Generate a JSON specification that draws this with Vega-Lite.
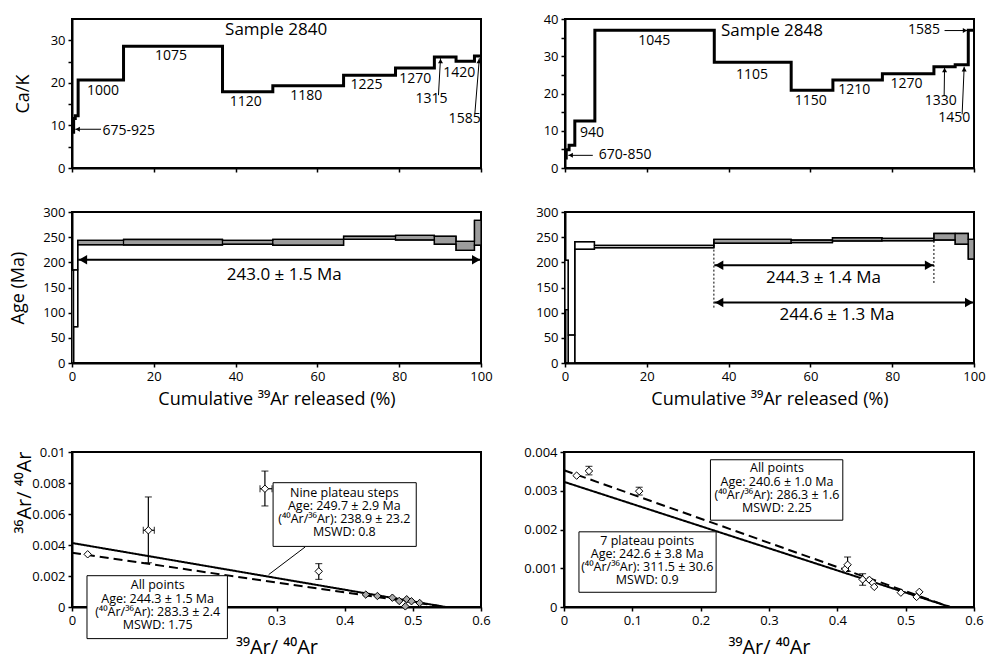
{
  "$schema": "https://vega.github.io/schema/vega-lite/v6.json",
  "padding": {"left": 8, "top": 12, "right": 0, "bottom": 0},
  "background": "white",
  "config": {
    "font": "Open Sans",
    "view": {"stroke": "black", "strokeWidth": 2},
    "axis": {"grid": false, "domainColor": "black", "domainWidth": 2, "tickColor": "black", "tickWidth": 1.5, "tickSize": 4, "labelColor": "black", "labelFontSize": 13, "labelPadding": 3, "titleColor": "black", "titleFontSize": 18, "titleFontWeight": "normal", "labelFlush": false, "labelOverlap": false, "tickCount": 50},
    "text": {"color": "black"}
  },
  "datasets": {
    "cak2840": [
      {"x": 0, "y": 8.4}, {"x": 0.4, "y": 11.6}, {"x": 0.8, "y": 12.3}, {"x": 1.5, "y": 20.7}, {"x": 12.6, "y": 28.6}, {"x": 36.8, "y": 17.9}, {"x": 49.1, "y": 19.3}, {"x": 66.4, "y": 21.8}, {"x": 79.1, "y": 23.5}, {"x": 88.6, "y": 26.1}, {"x": 93.9, "y": 25.1}, {"x": 98.4, "y": 26.3}, {"x": 100, "y": 26.3}
    ],
    "lab2840": [
      {"x": 24.2, "y": 26.3, "t": "1075"}, {"x": 7.6, "y": 18.2, "t": "1000"}, {"x": 42.5, "y": 15.5, "t": "1120"}, {"x": 57.3, "y": 16.9, "t": "1180"}, {"x": 72.0, "y": 19.5, "t": "1225"}, {"x": 83.9, "y": 20.9, "t": "1270"}, {"x": 87.9, "y": 16.1, "t": "1315"}, {"x": 94.7, "y": 22.4, "t": "1420"}, {"x": 96.0, "y": 11.4, "t": "1585"}, {"x": 13.9, "y": 8.7, "t": "675-925"}
    ],
    "arr2840": [
      {"x": 7.1, "y": 9.1, "x2": 0.8, "y2": 9.1, "hx": 1.4, "hy": 9.1, "dir": "left"},
      {"x": 89.6, "y": 17.1, "x2": 90.1, "y2": 25.8, "hx": 90.1, "hy": 25.1, "dir": "up"},
      {"x": 98.5, "y": 12.8, "x2": 99.6, "y2": 25.8, "hx": 99.5, "hy": 25.1, "dir": "up"}
    ],
    "cak2848": [
      {"x": 0, "y": 2.7}, {"x": 0.3, "y": 4.9}, {"x": 1.0, "y": 6.1}, {"x": 2.4, "y": 12.6}, {"x": 7.3, "y": 37.0}, {"x": 36.5, "y": 28.4}, {"x": 55.3, "y": 20.9}, {"x": 65.5, "y": 23.6}, {"x": 77.6, "y": 25.3}, {"x": 90.2, "y": 27.2}, {"x": 95.4, "y": 27.7}, {"x": 98.6, "y": 37.0}, {"x": 100, "y": 37.0}
    ],
    "lab2848": [
      {"x": 21.8, "y": 34.0, "t": "1045"}, {"x": 45.7, "y": 25.0, "t": "1105"}, {"x": 60.1, "y": 18.0, "t": "1150"}, {"x": 70.7, "y": 20.9, "t": "1210"}, {"x": 83.5, "y": 22.5, "t": "1270"}, {"x": 91.9, "y": 18.0, "t": "1330"}, {"x": 95.2, "y": 13.5, "t": "1450"}, {"x": 87.8, "y": 37.0, "t": "1585"}, {"x": 6.6, "y": 9.3, "t": "940"}, {"x": 14.7, "y": 3.4, "t": "670-850"}
    ],
    "arr2848": [
      {"x": 6.8, "y": 3.4, "x2": 0.8, "y2": 3.4, "hx": 1.4, "hy": 3.4, "dir": "left"},
      {"x": 92.7, "y": 19.3, "x2": 92.8, "y2": 27.0, "hx": 92.8, "hy": 26.3, "dir": "up"},
      {"x": 97.1, "y": 14.4, "x2": 97.6, "y2": 27.2, "hx": 97.6, "hy": 26.5, "dir": "up"},
      {"x": 92.8, "y": 36.9, "x2": 98.4, "y2": 36.9, "hx": 97.8, "hy": 36.9, "dir": "right"}
    ],
    "age2840": [
      {"x": 0, "x2": 0.4, "lo": 0, "hi": 184, "p": false},
      {"x": 0.4, "x2": 1.4, "lo": 72, "hi": 185, "p": false},
      {"x": 1.4, "x2": 12.6, "lo": 235, "hi": 243.6, "p": true},
      {"x": 12.6, "x2": 36.8, "lo": 234.5, "hi": 245.5, "p": true},
      {"x": 36.8, "x2": 49.1, "lo": 235.8, "hi": 243.7, "p": true},
      {"x": 49.1, "x2": 66.4, "lo": 233.8, "hi": 245.7, "p": true},
      {"x": 66.4, "x2": 79.1, "lo": 245.7, "hi": 251.7, "p": true},
      {"x": 79.1, "x2": 88.6, "lo": 244.4, "hi": 253.6, "p": true},
      {"x": 88.6, "x2": 93.9, "lo": 235.8, "hi": 251.7, "p": true},
      {"x": 93.9, "x2": 98.4, "lo": 223.8, "hi": 241.7, "p": true},
      {"x": 98.4, "x2": 100, "lo": 233.8, "hi": 283.4, "p": true},
      {"x": 100, "lo": 233.8, "hi": 283.4}
    ],
    "age2848": [
      {"x": 0, "x2": 0.8, "lo": 106, "hi": 204, "p": false},
      {"x": 0.8, "x2": 2.4, "lo": 0, "hi": 55.6, "p": false},
      {"x": 2.4, "x2": 7.2, "lo": 226, "hi": 241, "p": false},
      {"x": 7.2, "x2": 36.4, "lo": 229, "hi": 233.5, "p": false},
      {"x": 36.4, "x2": 55.3, "lo": 237.8, "hi": 245.6, "p": true},
      {"x": 55.3, "x2": 65.4, "lo": 239.1, "hi": 244.3, "p": true},
      {"x": 65.4, "x2": 77.5, "lo": 242.4, "hi": 248.9, "p": true},
      {"x": 77.5, "x2": 90.2, "lo": 243, "hi": 247.6, "p": true},
      {"x": 90.2, "x2": 95.4, "lo": 244.3, "hi": 257.4, "p": true},
      {"x": 95.4, "x2": 98.6, "lo": 235.8, "hi": 257.4, "p": true},
      {"x": 98.6, "x2": 100, "lo": 206.3, "hi": 245.6, "p": true},
      {"x": 100, "lo": 206.3, "hi": 245.6}
    ],
    "plat2840": [{"x": 1.5, "x2": 100, "y": 205, "hl": 2.7, "hr": 98.8}],
    "plat2848": [{"x": 36.5, "x2": 90.2, "y": 194, "hl": 37.7, "hr": 89.0}, {"x": 36.5, "x2": 100, "y": 120, "hl": 37.7, "hr": 98.8}],
    "dot2848": [{"x": 36.4, "y": 110, "y2": 246}, {"x": 90.2, "y": 159, "y2": 246}],
    "agelab2840": [{"x": 51.9, "y": 175.5, "t": "243.0 ± 1.5 Ma"}],
    "agelab2848": [{"x": 63.2, "y": 169, "t": "244.3 ± 1.4 Ma"}, {"x": 66.5, "y": 95.6, "t": "244.6 ± 1.3 Ma"}],
    "pts2840": [
      {"x": 0.023, "y": 0.0034, "p": false}, {"x": 0.112, "y": 0.00495, "p": false}, {"x": 0.283, "y": 0.00763, "p": false}, {"x": 0.362, "y": 0.0023, "p": false},
      {"x": 0.431, "y": 0.0008, "p": true}, {"x": 0.448, "y": 0.00071, "p": true}, {"x": 0.470, "y": 0.0006, "p": true}, {"x": 0.480, "y": 0.00039, "p": true}, {"x": 0.491, "y": 0.0005, "p": true}, {"x": 0.498, "y": 0.00037, "p": true}, {"x": 0.510, "y": 0.00026, "p": true}, {"x": 0.489, "y": 0.00004, "p": true}
    ],
    "ey2840": [{"x": 0.112, "lo": 0.00286, "hi": 0.0071}, {"x": 0.283, "lo": 0.00652, "hi": 0.00877}, {"x": 0.362, "lo": 0.00178, "hi": 0.0028}],
    "ex2840": [{"y": 0.00495, "lo": 0.1046, "hi": 0.1208}, {"y": 0.00763, "lo": 0.2758, "hi": 0.2934}],
    "fit2840": [{"x": 0, "y": 0.0035, "fit": "all"}, {"x": 0.548, "y": 0, "fit": "all"}, {"x": 0, "y": 0.00413, "fit": "plat"}, {"x": 0.548, "y": 0, "fit": "plat"}],
    "box2840": [{"x": 0.295, "x2": 0.505, "y": 0.00391, "y2": 0.00802}, {"x": 0.022, "x2": 0.228, "y": -0.00204, "y2": 0.00202}],
    "txt2840": [
      {"x": 0.3995, "y": 0.00777, "lines": ["Nine plateau steps", "Age: 249.7 ± 2.9 Ma", "(⁴⁰Ar/³⁶Ar): 238.9 ± 23.2", "MSWD: 0.8"]},
      {"x": 0.1257, "y": 0.00179, "lines": ["All points", "Age: 244.3 ± 1.5 Ma", "(⁴⁰Ar/³⁶Ar): 283.3 ± 2.4", "MSWD: 1.75"]}
    ],
    "lead2840": [{"x": 0.342, "y": 0.00387, "x2": 0.2885, "y2": 0.00209}],
    "pts2848": [
      {"x": 0.0185, "y": 0.00339}, {"x": 0.0365, "y": 0.00351}, {"x": 0.110, "y": 0.00299}, {"x": 0.4116, "y": 0.00098}, {"x": 0.415, "y": 0.00109}, {"x": 0.437, "y": 0.00071}, {"x": 0.447, "y": 0.0007}, {"x": 0.452, "y": 0.00062}, {"x": 0.454, "y": 0.00052}, {"x": 0.493, "y": 0.00037}, {"x": 0.516, "y": 0.00026}, {"x": 0.520, "y": 0.00039}
    ],
    "ey2848": [{"x": 0.0365, "lo": 0.00341, "hi": 0.00363}, {"x": 0.110, "lo": 0.00289, "hi": 0.00309}, {"x": 0.415, "lo": 0.00092, "hi": 0.00129}, {"x": 0.437, "lo": 0.00056, "hi": 0.00086}],
    "fit2848": [{"x": 0, "y": 0.00353, "fit": "all"}, {"x": 0.565, "y": 0, "fit": "all"}, {"x": 0, "y": 0.00323, "fit": "plat"}, {"x": 0.565, "y": 0, "fit": "plat"}],
    "box2848": [{"x": 0.2143, "x2": 0.408, "y": 0.00224, "y2": 0.0038}, {"x": 0.0219, "x2": 0.2226, "y": 0.00038, "y2": 0.00194}],
    "txt2848": [
      {"x": 0.3117, "y": 0.00373, "lines": ["All points", "Age: 240.6 ± 1.0 Ma", "(⁴⁰Ar/³⁶Ar): 286.3 ± 1.6", "MSWD: 2.25"]},
      {"x": 0.1218, "y": 0.00187, "lines": ["7 plateau points", "Age: 242.6 ± 3.8 Ma", "(⁴⁰Ar/³⁶Ar): 311.5 ± 30.6", "MSWD: 0.9"]}
    ]
  },
  "bounds": "flush",
  "spacing": 433,
  "resolve": {"scale": {"x": "independent", "y": "independent"}},
  "vconcat": [
    {
      "bounds": "flush",
      "spacing": 193,
      "resolve": {"scale": {"x": "independent", "y": "independent"}},
      "vconcat": [
        {
          "bounds": "flush",
          "spacing": 84,
          "resolve": {"scale": {"x": "independent", "y": "independent"}},
          "hconcat": [
            {
              "width": 409, "height": 149,
              "layer": [
                {"data": {"name": "cak2840"}, "mark": {"type": "line", "interpolate": "step-after", "color": "black", "strokeWidth": 3},
                 "encoding": {
                   "x": {"field": "x", "type": "quantitative", "scale": {"domain": [0, 100]}, "axis": {"title": null, "labels": false, "values": [0, 20, 40, 60, 80, 100], "tickCount": 50}},
                   "y": {"field": "y", "type": "quantitative", "scale": {"domain": [0, 35]}, "axis": {"title": "Ca/K", "values": [0, 5, 10, 15, 20, 25, 30], "tickCount": 50, "labelOverlap": false, "labelExpr": "datum.value % 10 == 0 ? format(datum.value, 'd') : ''", "titleX": -49, "titleAlign": "center", "titleBaseline": "middle"}}}},
                {"data": {"name": "lab2840"}, "mark": {"type": "text", "fontSize": 14},
                 "encoding": {"x": {"field": "x", "type": "quantitative"}, "y": {"field": "y", "type": "quantitative"}, "text": {"field": "t"}}},
                {"data": {"values": [{"x": 49.9, "y": 32.3, "t": "Sample 2840"}]}, "mark": {"type": "text", "fontSize": 17},
                 "encoding": {"x": {"field": "x", "type": "quantitative"}, "y": {"field": "y", "type": "quantitative"}, "text": {"field": "t"}}},
                {"data": {"name": "arr2840"}, "mark": {"type": "rule", "color": "black", "strokeWidth": 1},
                 "encoding": {"x": {"field": "x", "type": "quantitative"}, "y": {"field": "y", "type": "quantitative"}, "x2": {"field": "x2"}, "y2": {"field": "y2"}}},
                {"data": {"name": "arr2840"}, "mark": {"type": "point", "filled": true, "color": "black", "size": 25, "opacity": 1},
                 "encoding": {"x": {"field": "hx", "type": "quantitative"}, "y": {"field": "hy", "type": "quantitative"},
                   "shape": {"field": "dir", "type": "nominal", "scale": {"domain": ["left", "up", "right"], "range": ["triangle-left", "triangle-up", "triangle-right"]}, "legend": null}}}
              ]
            },
            {
              "width": 409, "height": 149,
              "layer": [
                {"data": {"name": "cak2848"}, "mark": {"type": "line", "interpolate": "step-after", "color": "black", "strokeWidth": 3},
                 "encoding": {
                   "x": {"field": "x", "type": "quantitative", "scale": {"domain": [0, 100]}, "axis": {"title": null, "labels": false, "values": [0, 20, 40, 60, 80, 100], "tickCount": 50}},
                   "y": {"field": "y", "type": "quantitative", "scale": {"domain": [0, 40]}, "axis": {"title": null, "values": [0, 5, 10, 15, 20, 25, 30, 35, 40], "tickCount": 50, "labelOverlap": false, "labelExpr": "datum.value % 10 == 0 ? format(datum.value, 'd') : ''"}}}},
                {"data": {"name": "lab2848"}, "mark": {"type": "text", "fontSize": 14},
                 "encoding": {"x": {"field": "x", "type": "quantitative"}, "y": {"field": "y", "type": "quantitative"}, "text": {"field": "t"}}},
                {"data": {"values": [{"x": 50.6, "y": 36.9, "t": "Sample 2848"}]}, "mark": {"type": "text", "fontSize": 17},
                 "encoding": {"x": {"field": "x", "type": "quantitative"}, "y": {"field": "y", "type": "quantitative"}, "text": {"field": "t"}}},
                {"data": {"name": "arr2848"}, "mark": {"type": "rule", "color": "black", "strokeWidth": 1},
                 "encoding": {"x": {"field": "x", "type": "quantitative"}, "y": {"field": "y", "type": "quantitative"}, "x2": {"field": "x2"}, "y2": {"field": "y2"}}},
                {"data": {"name": "arr2848"}, "mark": {"type": "point", "filled": true, "color": "black", "size": 25, "opacity": 1},
                 "encoding": {"x": {"field": "hx", "type": "quantitative"}, "y": {"field": "hy", "type": "quantitative"},
                   "shape": {"field": "dir", "type": "nominal", "scale": {"domain": ["left", "up", "right"], "range": ["triangle-left", "triangle-up", "triangle-right"]}, "legend": null}}}
              ]
            }
          ]
        },
        {
          "bounds": "flush",
          "spacing": 84,
          "resolve": {"scale": {"x": "independent", "y": "independent"}},
          "hconcat": [
            {
              "width": 409, "height": 151,
              "layer": [
                {"data": {"name": "age2840"}, "transform": [{"filter": "isValid(datum.x2)"}],
                 "mark": {"type": "rect", "stroke": "black", "strokeWidth": 1.2},
                 "encoding": {
                   "x": {"field": "x", "type": "quantitative", "scale": {"domain": [0, 100]}, "axis": {"title": "Cumulative ³⁹Ar released (%)", "values": [0, 20, 40, 60, 80, 100], "tickCount": 50, "labelOverlap": false, "titleY": 36, "titleBaseline": "middle"}},
                   "x2": {"field": "x2"},
                   "y": {"field": "lo", "type": "quantitative", "scale": {"domain": [0, 300]}, "axis": {"title": "Age (Ma)", "values": [0, 50, 100, 150, 200, 250, 300], "tickCount": 50, "labelOverlap": false, "titleX": -54, "titleAlign": "center", "titleBaseline": "middle"}},
                   "y2": {"field": "hi"},
                   "fill": {"condition": {"test": "datum.p", "value": "#9c9c9c"}, "value": "white"}}},
                {"data": {"name": "age2840"}, "mark": {"type": "line", "interpolate": "step-after", "color": "black", "strokeWidth": 1.4},
                 "encoding": {"x": {"field": "x", "type": "quantitative"}, "y": {"field": "lo", "type": "quantitative"}}},
                {"data": {"name": "age2840"}, "mark": {"type": "line", "interpolate": "step-after", "color": "black", "strokeWidth": 1.4},
                 "encoding": {"x": {"field": "x", "type": "quantitative"}, "y": {"field": "hi", "type": "quantitative"}}},
                {"data": {"name": "plat2840"}, "mark": {"type": "rule", "color": "black", "strokeWidth": 2},
                 "encoding": {"x": {"field": "x", "type": "quantitative"}, "x2": {"field": "x2"}, "y": {"field": "y", "type": "quantitative"}}},
                {"data": {"name": "plat2840"}, "mark": {"type": "point", "shape": "triangle-left", "filled": true, "color": "black", "size": 90, "opacity": 1},
                 "encoding": {"x": {"field": "hl", "type": "quantitative"}, "y": {"field": "y", "type": "quantitative"}}},
                {"data": {"name": "plat2840"}, "mark": {"type": "point", "shape": "triangle-right", "filled": true, "color": "black", "size": 90, "opacity": 1},
                 "encoding": {"x": {"field": "hr", "type": "quantitative"}, "y": {"field": "y", "type": "quantitative"}}},
                {"data": {"name": "agelab2840"}, "mark": {"type": "text", "fontSize": 17},
                 "encoding": {"x": {"field": "x", "type": "quantitative"}, "y": {"field": "y", "type": "quantitative"}, "text": {"field": "t"}}}
              ]
            },
            {
              "width": 409, "height": 151,
              "layer": [
                {"data": {"name": "age2848"}, "transform": [{"filter": "isValid(datum.x2)"}],
                 "mark": {"type": "rect", "stroke": "black", "strokeWidth": 1.2},
                 "encoding": {
                   "x": {"field": "x", "type": "quantitative", "scale": {"domain": [0, 100]}, "axis": {"title": "Cumulative ³⁹Ar released (%)", "values": [0, 20, 40, 60, 80, 100], "tickCount": 50, "labelOverlap": false, "titleY": 36, "titleBaseline": "middle"}},
                   "x2": {"field": "x2"},
                   "y": {"field": "lo", "type": "quantitative", "scale": {"domain": [0, 300]}, "axis": {"title": null, "values": [0, 50, 100, 150, 200, 250, 300], "tickCount": 50, "labelOverlap": false}},
                   "y2": {"field": "hi"},
                   "fill": {"condition": {"test": "datum.p", "value": "#9c9c9c"}, "value": "white"}}},
                {"data": {"name": "age2848"}, "mark": {"type": "line", "interpolate": "step-after", "color": "black", "strokeWidth": 1.4},
                 "encoding": {"x": {"field": "x", "type": "quantitative"}, "y": {"field": "lo", "type": "quantitative"}}},
                {"data": {"name": "age2848"}, "mark": {"type": "line", "interpolate": "step-after", "color": "black", "strokeWidth": 1.4},
                 "encoding": {"x": {"field": "x", "type": "quantitative"}, "y": {"field": "hi", "type": "quantitative"}}},
                {"data": {"name": "dot2848"}, "mark": {"type": "rule", "color": "black", "strokeWidth": 1, "strokeDash": [2, 2]},
                 "encoding": {"x": {"field": "x", "type": "quantitative"}, "y": {"field": "y", "type": "quantitative"}, "y2": {"field": "y2"}}},
                {"data": {"name": "plat2848"}, "mark": {"type": "rule", "color": "black", "strokeWidth": 2},
                 "encoding": {"x": {"field": "x", "type": "quantitative"}, "x2": {"field": "x2"}, "y": {"field": "y", "type": "quantitative"}}},
                {"data": {"name": "plat2848"}, "mark": {"type": "point", "shape": "triangle-left", "filled": true, "color": "black", "size": 90, "opacity": 1},
                 "encoding": {"x": {"field": "hl", "type": "quantitative"}, "y": {"field": "y", "type": "quantitative"}}},
                {"data": {"name": "plat2848"}, "mark": {"type": "point", "shape": "triangle-right", "filled": true, "color": "black", "size": 90, "opacity": 1},
                 "encoding": {"x": {"field": "hr", "type": "quantitative"}, "y": {"field": "y", "type": "quantitative"}}},
                {"data": {"name": "agelab2848"}, "mark": {"type": "text", "fontSize": 17},
                 "encoding": {"x": {"field": "x", "type": "quantitative"}, "y": {"field": "y", "type": "quantitative"}, "text": {"field": "t"}}}
              ]
            }
          ]
        }
      ]
    },
    {
      "bounds": "flush",
      "spacing": 83,
      "resolve": {"scale": {"x": "independent", "y": "independent"}},
      "hconcat": [
        {
          "width": 409, "height": 155,
          "layer": [
            {"data": {"name": "fit2840"}, "mark": {"type": "line", "color": "black", "strokeWidth": 2},
             "encoding": {
               "x": {"field": "x", "type": "quantitative", "title": "³⁹Ar/ ⁴⁰Ar", "scale": {"domain": [0, 0.6]}, "axis": {"title": "³⁹Ar/ ⁴⁰Ar", "titleFontSize": 20, "values": [0, 0.1, 0.2, 0.3, 0.4, 0.5, 0.6], "tickCount": 50, "labelOverlap": false, "labelExpr": "datum.value == 0 ? '0' : (datum.value > 0.25 ? format(datum.value, '.1f') : '')", "titleY": 40, "titleBaseline": "middle"}},
               "y": {"field": "y", "type": "quantitative", "title": "³⁶Ar/ ⁴⁰Ar", "scale": {"domain": [0, 0.01]}, "axis": {"title": "³⁶Ar/ ⁴⁰Ar", "titleFontSize": 20, "values": [0, 0.002, 0.004, 0.006, 0.008, 0.01], "tickCount": 50, "labelOverlap": false, "labelExpr": "datum.value == 0 ? '0' : format(datum.value, '~g')", "titleX": -48, "titleY": 40, "titleAlign": "center", "titleBaseline": "middle"}},
               "detail": {"field": "fit"},
               "strokeDash": {"field": "fit", "type": "nominal", "scale": {"domain": ["all", "plat"], "range": [[9, 5], [1, 0]]}, "legend": null}}},
            {"data": {"name": "ey2840"}, "mark": {"type": "errorbar", "ticks": {"size": 7}, "color": "black", "thickness": 1.2},
             "encoding": {"x": {"field": "x", "type": "quantitative", "title": "³⁹Ar/ ⁴⁰Ar"}, "y": {"field": "lo", "type": "quantitative", "title": "³⁶Ar/ ⁴⁰Ar"}, "y2": {"field": "hi"}}},
            {"data": {"name": "ex2840"}, "mark": {"type": "errorbar", "ticks": {"size": 7}, "color": "black", "thickness": 1.2},
             "encoding": {"y": {"field": "y", "type": "quantitative", "title": "³⁶Ar/ ⁴⁰Ar"}, "x": {"field": "lo", "type": "quantitative", "title": "³⁹Ar/ ⁴⁰Ar"}, "x2": {"field": "hi"}}},
            {"data": {"name": "pts2840"}, "mark": {"type": "point", "shape": "diamond", "filled": true, "stroke": "black", "strokeWidth": 1, "size": 55, "opacity": 1},
             "encoding": {"x": {"field": "x", "type": "quantitative", "title": "³⁹Ar/ ⁴⁰Ar"}, "y": {"field": "y", "type": "quantitative", "title": "³⁶Ar/ ⁴⁰Ar"},
               "fill": {"condition": {"test": "datum.p", "value": "#a8a8a8"}, "value": "white"}}},
            {"data": {"name": "lead2840"}, "mark": {"type": "rule", "color": "black", "strokeWidth": 1},
             "encoding": {"x": {"field": "x", "type": "quantitative", "title": "³⁹Ar/ ⁴⁰Ar"}, "y": {"field": "y", "type": "quantitative", "title": "³⁶Ar/ ⁴⁰Ar"}, "x2": {"field": "x2"}, "y2": {"field": "y2"}}},
            {"data": {"name": "box2840"}, "mark": {"type": "rect", "fill": "white", "stroke": "black", "strokeWidth": 1},
             "encoding": {"x": {"field": "x", "type": "quantitative", "title": "³⁹Ar/ ⁴⁰Ar"}, "x2": {"field": "x2"}, "y": {"field": "y", "type": "quantitative", "title": "³⁶Ar/ ⁴⁰Ar"}, "y2": {"field": "y2"}}},
            {"data": {"name": "txt2840"}, "mark": {"type": "text", "fontSize": 12.5, "lineHeight": 13.3, "baseline": "top", "align": "center"},
             "encoding": {"x": {"field": "x", "type": "quantitative", "title": "³⁹Ar/ ⁴⁰Ar"}, "y": {"field": "y", "type": "quantitative", "title": "³⁶Ar/ ⁴⁰Ar"}, "text": {"field": "lines"}}}
          ]
        },
        {
          "width": 410, "height": 155,
          "layer": [
            {"data": {"name": "fit2848"}, "mark": {"type": "line", "color": "black", "strokeWidth": 2},
             "encoding": {
               "x": {"field": "x", "type": "quantitative", "title": "³⁹Ar/ ⁴⁰Ar", "scale": {"domain": [0, 0.6]}, "axis": {"title": "³⁹Ar/ ⁴⁰Ar", "titleFontSize": 20, "values": [0, 0.1, 0.2, 0.3, 0.4, 0.5, 0.6], "tickCount": 50, "labelOverlap": false, "labelExpr": "datum.value == 0 ? '0' : format(datum.value, '.1f')", "titleY": 40, "titleBaseline": "middle"}},
               "y": {"field": "y", "type": "quantitative", "scale": {"domain": [0, 0.004]}, "axis": {"title": null, "values": [0, 0.001, 0.002, 0.003, 0.004], "tickCount": 50, "labelOverlap": false, "labelExpr": "datum.value == 0 ? '0' : format(datum.value, '~g')"}},
               "detail": {"field": "fit"},
               "strokeDash": {"field": "fit", "type": "nominal", "scale": {"domain": ["all", "plat"], "range": [[9, 5], [1, 0]]}, "legend": null}}},
            {"data": {"name": "ey2848"}, "mark": {"type": "errorbar", "ticks": {"size": 7}, "color": "black", "thickness": 1.2},
             "encoding": {"x": {"field": "x", "type": "quantitative", "title": "³⁹Ar/ ⁴⁰Ar"}, "y": {"field": "lo", "type": "quantitative"}, "y2": {"field": "hi"}}},
            {"data": {"name": "pts2848"}, "mark": {"type": "point", "shape": "diamond", "filled": true, "fill": "white", "stroke": "black", "strokeWidth": 1, "size": 55, "opacity": 1},
             "encoding": {"x": {"field": "x", "type": "quantitative", "title": "³⁹Ar/ ⁴⁰Ar"}, "y": {"field": "y", "type": "quantitative"}}},
            {"data": {"name": "box2848"}, "mark": {"type": "rect", "fill": "white", "stroke": "black", "strokeWidth": 1},
             "encoding": {"x": {"field": "x", "type": "quantitative", "title": "³⁹Ar/ ⁴⁰Ar"}, "x2": {"field": "x2"}, "y": {"field": "y", "type": "quantitative"}, "y2": {"field": "y2"}}},
            {"data": {"name": "txt2848"}, "mark": {"type": "text", "fontSize": 12.5, "lineHeight": 13.3, "baseline": "top", "align": "center"},
             "encoding": {"x": {"field": "x", "type": "quantitative", "title": "³⁹Ar/ ⁴⁰Ar"}, "y": {"field": "y", "type": "quantitative"}, "text": {"field": "lines"}}}
          ]
        }
      ]
    }
  ]
}
